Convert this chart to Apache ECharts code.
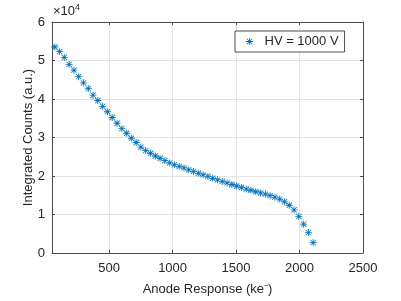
<!DOCTYPE html>
<html><head><meta charset="utf-8">
<script src="https://cdn.jsdelivr.net/npm/echarts@6/dist/echarts.min.js"></script>
<style>html,body{margin:0;padding:0;background:#fff;}#c{width:401px;height:301px;}</style>
</head><body><div id="c"></div>
<script>
// Anode response (ke-)
const anodeResponse = [72,110,147,185,223,260,298,336,373,411,449,487,524,562,600,637,675,713,750,788,826,864,901,939,977,1014,1052,1090,1127,1165,1203,1240,1278,1316,1354,1391,1429,1467,1504,1542,1580,1617,1655,1693,1731,1768,1806,1844,1881,1919,1957,1994,2032,2070,2107];
// Integrated counts (a.u.)
const integratedCounts = [53500,52300,50800,49000,47500,45800,44200,42700,41000,39600,38100,36700,35200,33700,32300,31100,29800,28700,27500,26600,25900,25200,24600,24000,23400,22900,22500,22100,21600,21200,20700,20300,19900,19400,19000,18600,18200,17800,17400,17000,16600,16300,15900,15600,15300,14900,14500,14000,13300,12400,11200,9500,7500,5300,2700];
const xTicks = [500,1000,1500,2000,2500];
const yTicks = [0,1,2,3,4,5,6];
const seriesName = 'HV = 1000 V';

const star = 'path://M4.4 0 L5.6 0 L5.6 10 L4.4 10 Z M0 4.4 L10 4.4 L10 5.6 L0 5.6 Z M1.6 0.8 L9.2 8.4 L8.4 9.2 L0.8 1.6 Z M8.4 0.8 L9.2 1.6 L1.6 9.2 L0.8 8.4 Z';
const blue = '#0072BD';
const axisCol = '#4d4d4d';
const textCol = '#262626';
const font = 'Liberation Sans, Arial, Helvetica, sans-serif';

const chart = echarts.init(document.getElementById('c'), null, {renderer:'canvas'});
const xMin = 50, xMax = 2500;
const pts = anodeResponse.map((x,i)=>[x, integratedCounts[i]]);
chart.setOption({
  animation:false,
  backgroundColor:'#fff',
  grid:{left:52, right:38, top:22, bottom:45, containLabel:false},
  legend:{
    data:[{name:seriesName, icon:star}],
    left:235, top:31,
    orient:'horizontal',
    itemWidth:20, itemHeight:7,
    padding:[4,6,4,11],
    borderColor:axisCol, borderWidth:1, backgroundColor:'#fff',
    textStyle:{fontSize:13, color:textCol, fontFamily:font},
    itemStyle:{color:blue}
  },
  xAxis:[{
    type:'value', min:xMin, max:xMax,
    name:'Anode Response (ke\u207B)', nameLocation:'middle', nameGap:30, nameMoveOverlap:false,
    nameTextStyle:{fontSize:13, color:textCol, fontFamily:font},
    axisLine:{show:true, onZero:false, lineStyle:{color:axisCol, width:1}},
    axisTick:{show:true, inside:true, length:3, customValues:xTicks, lineStyle:{color:axisCol}},
    axisLabel:{customValues:xTicks, formatter:v=>String(v), fontSize:13, color:textCol, fontFamily:font, margin:9},
    splitLine:{show:true, lineStyle:{color:'#e3e3e3', width:1}}
  },{
    type:'value', min:xMin, max:xMax, position:'top',
    axisLine:{show:true, onZero:false, lineStyle:{color:axisCol, width:1}},
    axisTick:{show:true, inside:true, length:3, customValues:xTicks, lineStyle:{color:axisCol}},
    axisLabel:{show:false}, splitLine:{show:false}
  }],
  yAxis:[{
    type:'value', min:0, max:60000, interval:10000,
    name:'Integrated Counts (a.u.)', nameLocation:'middle', nameGap:17, nameMoveOverlap:false,
    nameTextStyle:{fontSize:13, color:textCol, fontFamily:font},
    axisLine:{show:true, onZero:false, lineStyle:{color:axisCol, width:1}},
    axisTick:{show:true, inside:true, length:3, lineStyle:{color:axisCol}},
    axisLabel:{formatter:v=>String(v/10000), fontSize:13, color:textCol, fontFamily:font, margin:7},
    splitLine:{show:true, lineStyle:{color:'#e3e3e3', width:1}}
  },{
    type:'value', min:0, max:60000, interval:10000, position:'right',
    axisLine:{show:true, onZero:false, lineStyle:{color:axisCol, width:1}},
    axisTick:{show:true, inside:true, length:3, lineStyle:{color:axisCol}},
    axisLabel:{show:false}, splitLine:{show:false}
  }],
  series:[{
    name:seriesName, type:'scatter', xAxisIndex:0, yAxisIndex:0,
    data:pts, symbol:star, symbolSize:7,
    itemStyle:{color:blue, opacity:1}
  }],
  graphic:[{
    type:'text', left:53, top:3,
    style:{
      text:'{a|\u00D710}{b|4}',
      rich:{
        a:{fontSize:13, fill:textCol, fontFamily:font, verticalAlign:'bottom'},
        b:{fontSize:9, fill:textCol, fontFamily:font, verticalAlign:'top', padding:[0,0,6,0]}
      }
    }
  }]
});
</script></body></html>
